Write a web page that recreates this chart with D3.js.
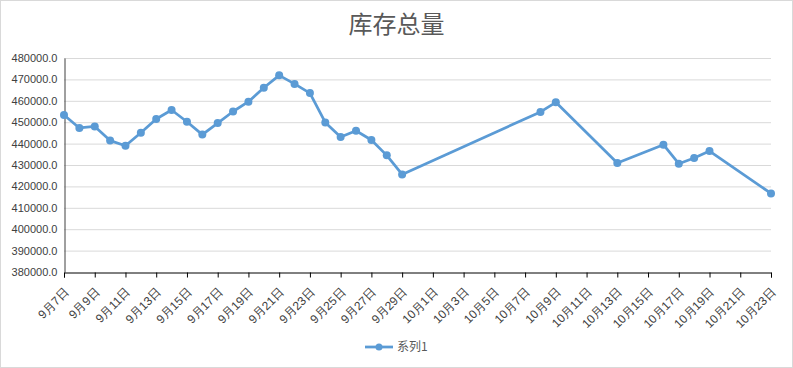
<!DOCTYPE html>
<html>
<head>
<meta charset="utf-8">
<script src="https://cdn.jsdelivr.net/npm/d3@7"></script>
<style>
  body { margin: 0; background: #fff; }
  svg { display: block; font-family: "Noto Sans CJK SC", "Noto Sans", sans-serif; }
</style>
</head>
<body>
<div id="app"></div>
<script>
(function (d3) {

  'use strict'

  const title = '库存总量'
  const seriesName = '系列1'
  // month-day pairs of each sample, year is not shown
  const dates = [
    '09-07','09-08','09-09','09-10','09-11','09-12','09-13','09-14','09-15','09-16',
    '09-17','09-18','09-19','09-20','09-21','09-22','09-23','09-24','09-25','09-26',
    '09-27','09-28','09-29','10-08','10-09','10-13','10-16','10-17','10-18','10-19','10-23'
  ]
  const values = [
    453400, 447300, 448000, 441400, 439000, 445100, 451500, 455700, 450200, 444200,
    449600, 455000, 459600, 466100, 471900, 467900, 463600, 449900, 443100, 446000,
    441700, 434500, 425600, 454800, 459300, 430900, 439500, 430600, 433300, 436500, 416700
  ]
  const yTicks = [380000, 390000, 400000, 410000, 420000, 430000, 440000, 450000, 460000, 470000, 480000]
  const xStart = '09-07'
  const xEnd = '10-23'

  const w = 793
  const h = 368
  const margin = {top: 58, right: 22, bottom: 96, left: 64}

  const parse = s => new Date(Date.UTC(2019, +s.slice(0, 2) - 1, +s.slice(3)))
  const data = dates.map((d, i) => ({date: parse(d), value: values[i]}))

  const svg = d3.select('#app')
    .append('svg')
    .attr('width', w)
    .attr('height', h)

  svg.append('rect')
    .attr('x', 0.5).attr('y', 0.5)
    .attr('width', w - 1).attr('height', h - 1)
    .attr('fill', '#fff')
    .attr('stroke', '#d9d9d9')

  const x = d3.scaleUtc()
    .domain([parse(xStart), parse(xEnd)])
    .range([margin.left, w - margin.right])

  const y = d3.scaleLinear()
    .domain([380000, 480000])
    .range([h - margin.bottom, margin.top])

  // gridlines
  svg.append('g')
    .selectAll('line')
    .data(yTicks.slice(1))
    .enter()
    .append('line')
    .attr('x1', margin.left)
    .attr('x2', w - margin.right)
    .attr('y1', d => y(d) + 0.5)
    .attr('y2', d => y(d) + 0.5)
    .attr('stroke', '#d9d9d9')
    .attr('stroke-width', 1)

  // y axis
  const yAxis = svg.append('g')
    .attr('transform', `translate(${margin.left + 0.5},0)`)
    .call(d3.axisLeft(y).tickValues(yTicks).tickSize(0).tickPadding(7).tickFormat(d => d.toFixed(1)))
  yAxis.select('.domain').attr('stroke', '#404040')
  yAxis.selectAll('text')
    .attr('fill', '#404040')
    .style('font-size', '11px')
    .style('font-family', '"Liberation Sans", Arial, sans-serif')

  // x axis
  const xTickDates = d3.utcDay.every(2).range(parse(xStart), d3.utcDay.offset(parse(xEnd), 1))
  const xAxis = svg.append('g')
    .attr('transform', `translate(0,${h - margin.bottom + 0.5})`)
    .call(d3.axisBottom(x)
      .tickValues(xTickDates)
      .tickSizeOuter(0)
      .tickSize(5)
      .tickFormat(d => (d.getUTCMonth() + 1) + '月' + d.getUTCDate() + '日'))
  xAxis.select('.domain').attr('stroke', '#000')
  xAxis.selectAll('.tick line').attr('stroke', '#000')
  xAxis.selectAll('text')
    .attr('fill', '#404040')
    .style('font-size', '12px')
    .attr('text-anchor', 'end')
    .attr('x', -11)
    .attr('y', 18)
    .attr('dy', 0)
    .attr('transform', 'rotate(-45)')

  // series
  const line = d3.line()
    .x(d => x(d.date))
    .y(d => y(d.value))

  svg.append('path')
    .datum(data)
    .attr('fill', 'none')
    .attr('stroke', '#5b9bd5')
    .attr('stroke-width', 2.75)
    .attr('stroke-linejoin', 'round')
    .attr('d', line)

  svg.append('g')
    .selectAll('circle')
    .data(data)
    .enter()
    .append('circle')
    .attr('cx', d => x(d.date))
    .attr('cy', d => y(d.value))
    .attr('r', 4)
    .attr('fill', '#5b9bd5')

  // title
  svg.append('text')
    .attr('x', w / 2)
    .attr('y', 33)
    .attr('text-anchor', 'middle')
    .attr('fill', '#595959')
    .style('font-size', '24px')
    .text(title)

  // legend
  const lg = svg.append('g').attr('transform', 'translate(365,347)')
  lg.append('line')
    .attr('x1', 0).attr('x2', 28)
    .attr('stroke', '#5b9bd5').attr('stroke-width', 2.75)
  lg.append('circle').attr('cx', 14).attr('r', 3.5).attr('fill', '#5b9bd5')
  lg.append('text')
    .attr('x', 32)
    .attr('dy', '0.35em')
    .attr('fill', '#595959')
    .style('font-size', '12px')
    .text(seriesName)

}(d3))
</script>
</body>
</html>
